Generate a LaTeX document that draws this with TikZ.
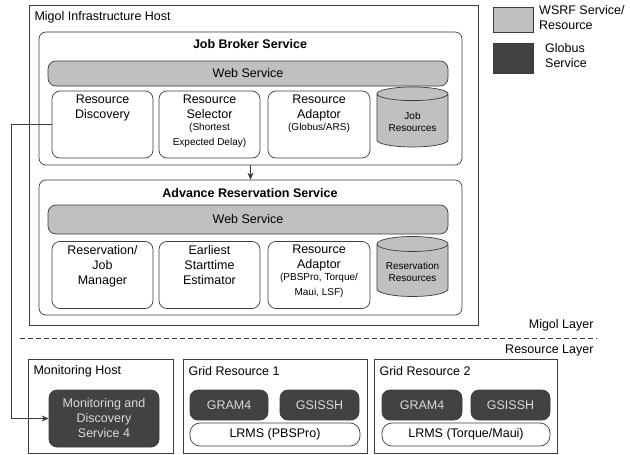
\documentclass[tikz,border=0pt]{standalone}
\usepackage{fontspec}
\setmainfont{Liberation Sans}
\usetikzlibrary{shapes.geometric,arrows.meta,positioning}
\definecolor{wsrfgray}{RGB}{192,192,192}
\definecolor{globusdark}{RGB}{66,66,66}
\definecolor{edgegray}{RGB}{60,60,60}
\definecolor{globustext}{RGB}{218,218,218}
\newcommand{\smalltxt}{\fontsize{10}{12.5}\selectfont}

\begin{document}
\begin{tikzpicture}[x=1pt,y=-1pt,
    font=\fontsize{12.5}{15}\selectfont,
    hostbox/.style={draw=edgegray,line width=0.7pt},
    svcbox/.style={draw=edgegray,line width=0.7pt,rounded corners=7pt},
    wsbar/.style={draw=edgegray,fill=wsrfgray,line width=0.7pt,rounded corners=8pt,minimum width=400},
    compbox/.style={draw=edgegray,line width=0.7pt,rounded corners=8pt,minimum height=67},
    comptext/.style={align=center,anchor=north,inner sep=1pt},
    dbnode/.style={draw=edgegray,fill=wsrfgray,line width=0.7pt,shape=cylinder,shape border rotate=90,
        aspect=0.25,minimum width=71,minimum height=60,align=center,font=\smalltxt},
    globusbox/.style={draw=edgegray,fill=globusdark,text=globustext,line width=0.7pt,rounded corners=8pt,align=center},
    lrmsbox/.style={draw=edgegray,line width=0.7pt,rounded corners=10pt,minimum height=23},
    titletext/.style={font=\fontsize{12.5}{14}\selectfont\bfseries}]
\useasboundingbox (0,0) rectangle (630,455);

% Migol layer
\node[hostbox,minimum width=449,minimum height=320] (migol) at (253.5,165) {};
\node[anchor=west] (migoltitle) at (31,17) {Migol Infrastructure Host};

% job broker service
\node[svcbox,minimum width=423,minimum height=133] (jb) at (250.5,98.5) {};
\node[titletext] (jbtitle) at (250,44) {Job Broker Service};
\node[wsbar,minimum height=25] (jbws) at (248,73.5) {Web Service};
\node[compbox,minimum width=101] (rd) at (102.5,124.5) {};
\node[comptext,below=3pt of rd.north] (rdtext) {Resource\\Discovery};
\node[compbox,minimum width=101] (rs) at (209.5,124.5) {};
\node[comptext,below=3pt of rs.north] (rstext) {Resource\\Selector\\[-3pt]\smalltxt(Shortest\\\smalltxt Expected Delay)};
\node[compbox,minimum width=102] (ra) at (319,124.5) {};
\node[comptext,below=3pt of ra.north] (ratext) {Resource\\Adaptor\\[-3pt]\smalltxt(Globus/ARS)};
\node[dbnode] (jobres) at (412.5,122) {Job\\Resources};

% advance reservation service
\node[svcbox,minimum width=423,minimum height=135] (ar) at (250.5,247.5) {};
\node[titletext] (artitle) at (250,193) {Advance Reservation Service};
\node[wsbar,minimum height=29] (arws) at (248,219.5) {Web Service};
\node[compbox,minimum width=101] (rjm) at (102.5,275) {};
\node[comptext,below=3pt of rjm.north] (rjmtext) {Reservation/\\Job\\Manager};
\node[compbox,minimum width=101] (est) at (209.5,275) {};
\node[comptext,below=3pt of est.north] (esttext) {Earliest\\Starttime\\Estimator};
\node[compbox,minimum width=102] (ara) at (319,275) {};
\node[comptext,below=3pt of ara.north] (aratext) {Resource\\Adaptor\\[-3pt]\smalltxt(PBSPro, Torque/\\\smalltxt Maui, LSF)};
\node[dbnode] (resvres) at (412.5,272) {Reservation\\Resources};

\draw[-{Stealth[length=7pt,width=6pt]},edgegray,line width=0.7pt] (jb.south) -- (ar.north);

% layer border
\coordinate (layerl) at (20,338);
\coordinate (layerr) at (597,338);
\draw[dashed,edgegray,line width=0.7pt,dash pattern=on 5pt off 3pt] (layerl) -- (layerr);
\node[anchor=east] (migollayer) at (597,325) {Migol Layer};
\node[anchor=east] (reslayer) at (597,350) {Resource Layer};

% resource layer
\node[hostbox,minimum width=145,minimum height=94] (monhost) at (100.5,406) {};
\node[anchor=west] (monhosttitle) at (30,371) {Monitoring Host};
\node[globusbox,minimum width=110,minimum height=57] (mds) at (104,418.5) {Monitoring and\\Discovery\\Service 4};

\node[hostbox,minimum width=184,minimum height=94] (grid1) at (275,406) {};
\node[anchor=west] (grid1title) at (185,371) {Grid Resource 1};
\node[globusbox,minimum width=78,minimum height=30] (gram1) at (229,405) {GRAM4};
\node[globusbox,minimum width=79,minimum height=30] (gsissh1) at (319.5,405) {GSISSH};
\node[lrmsbox,minimum width=170] (lrms1) at (275,434.5) {LRMS (PBSPro)};

\node[hostbox,minimum width=183,minimum height=94] (grid2) at (465.5,406) {};
\node[anchor=west] (grid2title) at (376,371) {Grid Resource 2};
\node[globusbox,minimum width=80,minimum height=30] (gram2) at (422,405) {GRAM4};
\node[globusbox,minimum width=79,minimum height=30] (gsissh2) at (510.5,405) {GSISSH};
\node[lrmsbox,minimum width=168] (lrms2) at (466,434.5) {LRMS (Torque/Maui)};

% discovery link
\draw[-{Stealth[length=7pt,width=6pt]},edgegray,line width=0.7pt] (rd.west) -- ++(-40,0) |- (mds.west);

% legend
\node[draw=edgegray,fill=wsrfgray,line width=0.7pt,minimum width=40,minimum height=25] (wsrfkey) at (513,19.5) {};
\node[anchor=north west,align=left,inner sep=0pt] (wsrflabel) at (539,5) {WSRF Service/\\Resource};
\node[draw=edgegray,fill=globusdark,line width=0.7pt,minimum width=40,minimum height=30] (globuskey) at (513,58) {};
\node[anchor=north west,align=left,inner sep=0pt] (globuslabel) at (545,43) {Globus\\Service};
\end{tikzpicture}
\end{document}
